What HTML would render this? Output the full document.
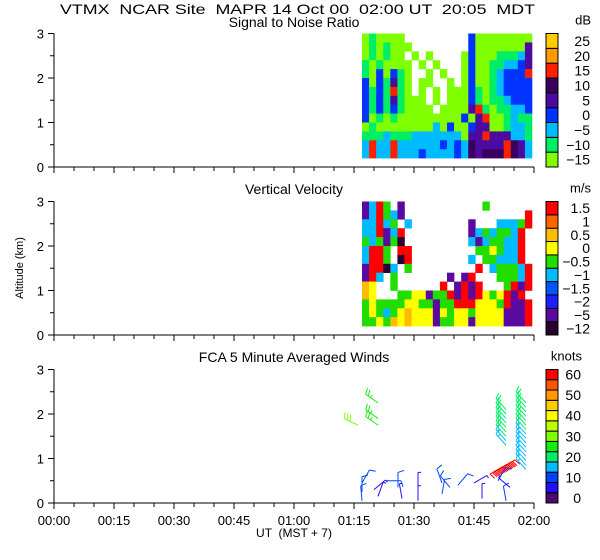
<!DOCTYPE html>
<html><head><meta charset="utf-8"><style>
html,body{margin:0;padding:0;background:#fff;}
svg{display:block;font-family:"Liberation Sans",sans-serif;}
</style></head><body>
<svg id="chart" width="600" height="560" viewBox="0 0 600 560" xmlns="http://www.w3.org/2000/svg">
<text x="60" y="14" font-size="14" style="white-space:pre" textLength="475" lengthAdjust="spacingAndGlyphs">VTMX  NCAR Site  MAPR 14 Oct 00  02:00 UT  20:05  MDT</text>
<text transform="translate(23,268) rotate(-90)" font-size="11" text-anchor="middle">Altitude (km)</text>
<text x="294" y="537" font-size="12" text-anchor="middle" style="white-space:pre">UT  (MST + 7)</text>
</svg>
<script>
// ---- data ----
const snrColors=["#80ff00","#00ee66","#00bbff","#0033ff","#4b0aa0","#3a0060","#ff2000","#ff9900","#ffcc00"];
const snrLabels=["-15","-10","-5","0","5","10","15","20","25"];
const snrRows=[
"010000.........300000000",
"0101000........300000004",
"010100.0.0....0300011124",
"1010000.0.0...0300112234",
"1030310..0.0..0300123336",
"3031410.00..0.0300123333",
"3131610.0.0.000310123333",
"313141000.0.000310112333",
"3131310000.0000461011223",
"301010000000003046001211",
"010000000020300344001221",
"111211122222220446444221",
"262262222223232544446542",
"262262223222232545556542"];
const vvColors=["#2a0033","#5a0aa0","#2020ff","#0055ff","#00bbff","#22dd00","#ffff00","#ffbb00","#ff6600","#ff0000"];
const vvLabels=["-12","-5","-2","-1.5","-1","-0.5","0","0.5","1","1.5"];
const vvRows=[
"1495.1...........5......",
"149541.................9",
"44945.4........1...44459",
"449149.........14545549",
"545150.........41455449",
"4995.99.........5565449",
"4995.09........4.554449",
"19904.5.........9.455549",
"194.5.......1.19...55549",
"76..5......9.1919...5919",
"76...556615591919656919",
"565555665515599966659119",
"565456766616566566661119",
"556576766615566166661119"];
const windColors=["#4b0a6e","#2010ff","#0044ff","#00bbff","#00ee66","#10ee10","#80ff00","#c0ff00","#ffff00","#ffcc00","#ff9900","#ff5500","#ff0000"];
const windLabels=["0","10","20","30","40","50","60"];
const windTime=[76,81,81,81,113,113,113,113,113,113,113,113,113,118,118,118,118,118,118,118,118,118,118,118,118,118,118,118,118,109,110,111,112,77,77,77,80,81,83,86,87,91,91,97,97,99,101,105,107,111,113,114];
const windHeight=[1.75,2.25,1.9,1.75,1.3,1.4,1.5,1.6,1.7,1.8,1.9,2.0,2.1,0.75,0.85,0.95,1.05,1.15,1.25,1.35,1.45,1.55,1.65,1.75,1.85,1.95,2.05,2.15,2.25,0.65,0.7,0.75,0.8,0.05,0.25,0.45,0.3,0.15,0.5,0.35,0.1,0.05,0.35,0.2,0.45,0.35,0.4,0.45,0.1,0.5,0.05,0.35];
const windSpeed=[30,25,25,25,15,15,20,20,20,20,20,20,20,15,15,15,15,15,15,15,15,15,20,20,20,20,20,20,20,60,60,60,60,10,10,10,5,5,10,10,5,5,5,10,10,10,10,5,5,10,10,5];
const windDir=[205,215,215,215,228,228,228,228,228,228,228,228,228,228,228,228,228,228,228,228,228,228,228,228,228,228,228,228,228,330,330,330,330,265,270,300,320,290,0,270,260,270,270,280,250,230,310,330,270,300,260,220];
// ---- layout ----
const svg=document.getElementById('chart');
const NS='http://www.w3.org/2000/svg';
const X0=54,X1=534,T0=0,T1=120;
const panels=[{top:33.5,bot:167,title:"Signal to Noise Ratio",unit:"dB",ty:27},{top:201.5,bot:335,title:"Vertical Velocity",unit:"m/s",ty:194},{top:369.5,bot:503,title:"FCA 5 Minute Averaged Winds",unit:"knots",ty:362}];
function xs(t){return X0+(t-T0)/(T1-T0)*(X1-X0);}
function mk(tag,attrs,parent){const e=document.createElementNS(NS,tag);for(const k in attrs)e.setAttribute(k,attrs[k]);(parent||svg).appendChild(e);return e;}
function ysFor(p){return h=>p.bot-h/3*(p.bot-p.top);}
const xLabels=["00:00","00:15","00:30","00:45","01:00","01:15","01:30","01:45","02:00"];
panels.forEach((p,pi)=>{
  const ys=ysFor(p);
  const g=mk('g',{});
  
  
  const t=mk('text',{x:294,y:p.ty,'font-size':14,'text-anchor':'middle'},g);t.textContent=p.title;
  
  const ax=mk('path',{d:`M${X0},${p.top}V${p.bot}H${X1}`,stroke:'#000',fill:'none','stroke-width':1},g);
  
  for(let h=0;h<=3;h+=0.5){const y=ys(h);mk('line',{x1:X0-(h%1===0?6:4),x2:X0,y1:y,y2:y,stroke:'#000'},g);
    if(h%1===0){const l=mk('text',{x:44,y:y+5,'font-size':13,'text-anchor':'end'},g);l.textContent=String(h);
    }}
  for(let m=0;m<=120;m+=5){const x=xs(m);mk('line',{x1:x,x2:x,y1:p.bot,y2:p.bot+(m%15===0?6:4),stroke:'#000'},g);}
  if(pi===2){xLabels.forEach((s,i)=>{const l=mk('text',{x:xs(i*15),y:p.bot+22,'font-size':13,'text-anchor':'middle'},g);l.textContent=s;
    });}
});
// heatmaps
function heat(rows,colors,p,name){
  const ys=ysFor(p);const g=mk('g',{});
  
  const tStart=77,tEnd=119.5,nc=24,nr=rows.length,hLo=0.2,hHi=3.0;
  const cw=(tEnd-tStart)/nc,rh=(hHi-hLo)/nr;
  rows.forEach((row,ri)=>{const hTop=hHi-ri*rh;
    for(let c=0;c<row.length&&c<nc;c++){const ch=row[c];if(ch==='.')continue;
      const x=xs(tStart+c*cw),y=ys(hTop);
      const r=mk('rect',{x:x,y:y,width:xs(tStart+(c+1)*cw)-x+0.3,height:ys(hTop-rh)-y+0.3,fill:colors[+ch]},g);
      }});
}
heat(snrRows,snrColors,panels[0],'snr-heatmap');
heat(vvRows,vvColors,panels[1],'velocity-heatmap');
// colorbars
function cbar(colors,labels,p,step,labX,name){
  const g=mk('g',{});
  const n=colors.length,h=(p.bot-p.top)/n;
  colors.forEach((c,i)=>{const y=p.bot-(i+1)*h;
    const r=mk('rect',{x:546,y:y,width:12,height:h,fill:c,stroke:'#000','stroke-width':1},g);
    });
  labels.forEach((s,i)=>{const y=p.bot-(i*step+0.5)*h+5;
    const l=mk('text',{x:labX,y:y,'font-size':14,'text-anchor':'end'},g);l.textContent=s.replace('-','\u2212');
    });
  const u=mk('text',{x:labX+1,y:p.top-9,'font-size':13,'text-anchor':'end'},g);u.textContent=p.unit;
  
}
cbar(snrColors,snrLabels,panels[0],1,590,'snr-colorbar');
cbar(vvColors,vvLabels,panels[1],1,590,'velocity-colorbar');
cbar(windColors,windLabels,panels[2],2,581,'wind-colorbar');
// wind barbs
(function(){
  const p=panels[2],ys=ysFor(p);const g=mk('g',{});
  
  windTime.forEach((t,i)=>{
    const x=xs(t),y=ys(windHeight[i]),a=windDir[i]*Math.PI/180,L=15;
    const ci=Math.min(12,Math.round(windSpeed[i]/5));const col=windColors[ci];
    const ex=x+L*Math.cos(a),ey=y+L*Math.sin(a);
    let d=`M${x},${y}L${ex},${ey}`;
    let s=windSpeed[i],k=0;const px=-Math.sin(a),py=Math.cos(a);
    while(s>=10){const bx=ex-k*3*Math.cos(a),by=ey-k*3*Math.sin(a);
      d+=`M${bx},${by}l${6*px+2*Math.cos(a)},${6*py+2*Math.sin(a)}`;s-=10;k++;}
    if(s>=5){const bx=ex-k*3*Math.cos(a),by=ey-k*3*Math.sin(a);d+=`M${bx},${by}l${3*px},${3*py}`;}
    const b=mk('path',{d:d,stroke:col,fill:'none','stroke-width':1},g);
    
  });
})();
</script>
</body></html>
